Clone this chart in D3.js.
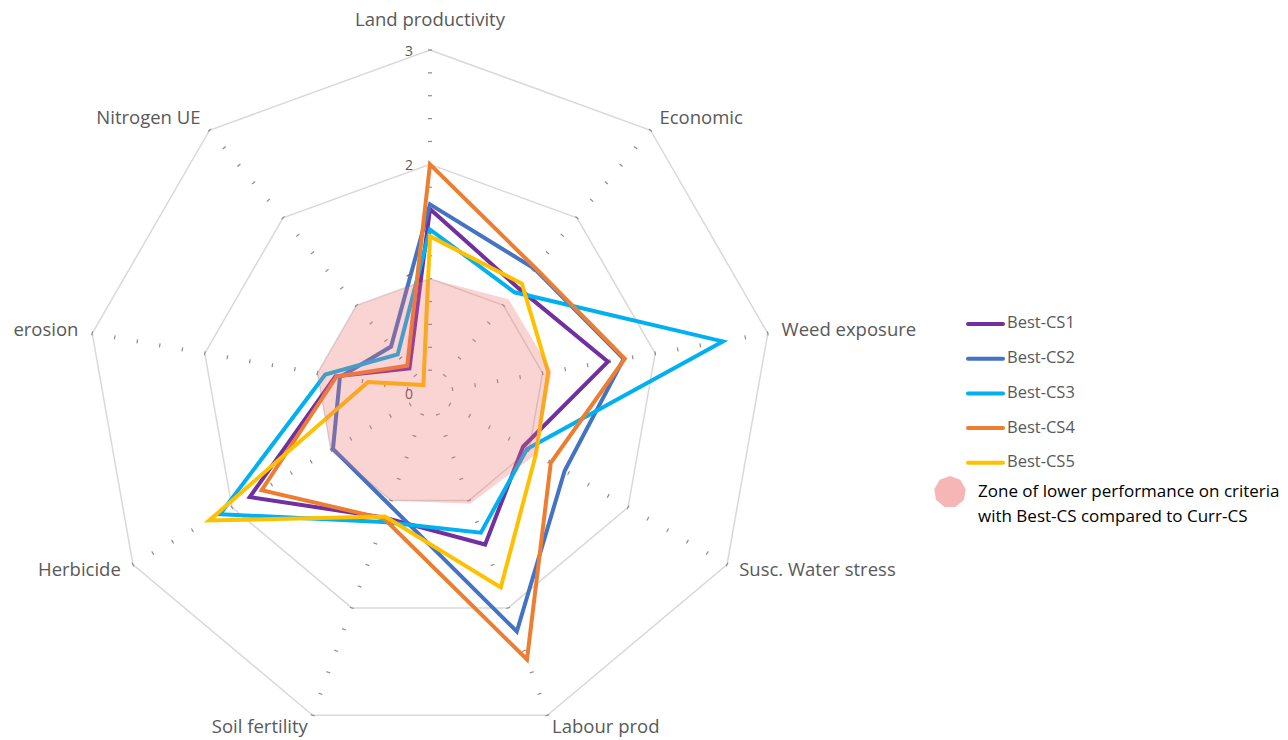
<!DOCTYPE html>
<html>
<head>
<meta charset="utf-8">
<script src="https://cdn.jsdelivr.net/npm/d3@7"></script>
<style>
  body { margin: 0; background: #fff; }
  svg { display: block; font-family: "Open Sans", "Liberation Sans", sans-serif; }
</style>
</head>
<body>
<svg width="1288" height="740"></svg>
<script>
// criteria, clockwise from the top
var categories = ["Land productivity", "Economic", "Weed exposure", "Susc. Water stress",
    "Labour prod", "Soil fertility", "Herbicide", "erosion", "Nitrogen UE"];

var seriesNames = ["Best-CS1", "Best-CS2", "Best-CS3", "Best-CS4", "Best-CS5"];
var seriesColors = ["#7030A0", "#4472C4", "#00B0F0", "#ED7D31", "#FFC000"];

var bestCS1 = [1.61, 1.20, 1.58, 0.94, 1.41, 1.16, 1.82, 0.84, 0.28];
var bestCS2 = [1.65, 1.42, 1.72, 1.36, 2.22, 1.04, 0.98, 0.80, 0.53];
var bestCS3 = [1.43, 1.15, 2.60, 0.98, 1.30, 1.20, 2.12, 0.93, 0.44];
var bestCS4 = [2.00, 1.43, 1.73, 1.22, 2.48, 1.17, 1.70, 0.83, 0.31];
var bestCS5 = [1.37, 1.25, 1.05, 1.07, 1.81, 1.15, 2.23, 0.55, 0.09];

// Curr-CS reference zone
var zoneValues = [1.0, 1.07, 1.08, 1.07, 1.03, 1.0, 1.0, 1.0, 1.0];
var zoneLabel = ["Zone of lower performance on criteria", "with Best-CS compared to Curr-CS"];

var gridLevels = [1, 2, 3];
var tickLabels = [0, 1, 2, 3];
var minorStep = 0.2;

var svg = d3.select("svg"),
    cx = 430,
    cy = 393;

var r = d3.scaleLinear().domain([0, 3]).range([0, 343]);
var angle = d3.scalePoint().domain(categories).range([0, 2 * Math.PI * 8 / 9]);

var radial = d3.lineRadial()
    .angle(function(d, i) { return angle(categories[i]); })
    .radius(function(d) { return r(d); })
    .curve(d3.curveLinearClosed);

function px(a, v) { return cx + r(v) * Math.sin(a); }
function py(a, v) { return cy - r(v) * Math.cos(a); }

var plot = svg.append("g").attr("transform", "translate(" + cx + "," + cy + ")");

// grid polygons
plot.append("g")
    .selectAll("path")
    .data(gridLevels)
    .enter()
        .append("path")
        .attr("d", function(lv) { return radial(categories.map(function() { return lv; })); })
        .attr("fill", "none")
        .attr("stroke", "#d9d9d9")
        .attr("stroke-width", 1.5);

// minor tick dashes on every spoke
var tickVals = d3.range(minorStep, 3 + 1e-6, minorStep);
var ticks = [];
categories.forEach(function(c) {
    tickVals.forEach(function(v) { ticks.push({ a: angle(c), v: v }); });
});
plot.append("g")
    .selectAll("line")
    .data(ticks)
    .enter()
        .append("line")
        .attr("x1", function(d) { return r(d.v) * Math.sin(d.a) - 2 * Math.cos(d.a); })
        .attr("y1", function(d) { return -r(d.v) * Math.cos(d.a) - 2 * Math.sin(d.a); })
        .attr("x2", function(d) { return r(d.v) * Math.sin(d.a) + 2 * Math.cos(d.a); })
        .attr("y2", function(d) { return -r(d.v) * Math.cos(d.a) + 2 * Math.sin(d.a); })
        .attr("stroke", "#8c8c8c")
        .attr("stroke-width", 1.2);

// scale numbers along the top spoke
plot.append("g")
    .selectAll("text")
    .data(tickLabels)
    .enter()
        .append("text")
        .attr("x", -17)
        .attr("y", function(d) { return -r(d) + 2; })
        .attr("text-anchor", "end")
        .attr("dominant-baseline", "middle")
        .attr("font-size", 14)
        .attr("fill", "#595959")
        .text(function(d) { return d; });

// series
var seriesData = [bestCS1, bestCS2, bestCS3, bestCS4, bestCS5];
plot.append("g")
    .selectAll("path")
    .data(seriesData)
    .enter()
        .append("path")
        .attr("d", radial)
        .attr("fill", "none")
        .attr("stroke", function(d, i) { return seriesColors[i]; })
        .attr("stroke-width", 4)
        .attr("stroke-linejoin", "miter")
        .attr("stroke-miterlimit", 10);

// pink zone on top, translucent
plot.append("path")
    .attr("d", radial(zoneValues))
    .attr("fill", "#f06e6e")
    .attr("opacity", 0.3);

// axis labels
svg.append("g")
    .selectAll("text")
    .data(categories)
    .enter()
        .append("text")
        .attr("x", function(c) {
            var a = angle(c);
            return px(a, 3) + 14 * Math.sin(a);
        })
        .attr("y", function(c) {
            var a = angle(c);
            if (a === 0) return py(a, 3) - 29;
            return py(a, 3) - 14 * Math.cos(a);
        })
        .attr("text-anchor", function(c) {
            var s = Math.sin(angle(c));
            return Math.abs(s) < 0.01 ? "middle" : (s > 0 ? "start" : "end");
        })
        .attr("dominant-baseline", "middle")
        .attr("font-size", 18.5)
        .attr("fill", "#595959")
        .text(function(c) { return c; });

// legend
var legend = svg.append("g").attr("transform", "translate(968,324)");
var item = legend.selectAll("g")
    .data(seriesNames)
    .enter()
        .append("g")
        .attr("transform", function(d, i) { return "translate(0," + (i * 34.7) + ")"; });
item.append("line")
    .attr("x1", 0).attr("x2", 35)
    .attr("stroke", function(d, i) { return seriesColors[i]; })
    .attr("stroke-width", 4)
    .attr("stroke-linecap", "round");
item.append("text")
    .attr("x", 39)
    .attr("dominant-baseline", "middle")
    .attr("font-size", 16.5)
    .attr("fill", "#595959")
    .text(function(d) { return d; });

var marker = d3.lineRadial()
    .angle(function(d, i) { return i * 2 * Math.PI / 9; })
    .radius(16)
    .curve(d3.curveLinearClosed);
svg.append("path")
    .attr("transform", "translate(950,492)")
    .attr("d", marker(d3.range(9)))
    .attr("fill", "#f06e6e")
    .attr("opacity", 0.5);

svg.append("g")
    .selectAll("text")
    .data(zoneLabel)
    .enter()
        .append("text")
        .attr("x", 978)
        .attr("y", function(d, i) { return 492 + i * 25; })
        .attr("dominant-baseline", "middle")
        .attr("font-size", 17)
        .attr("fill", "#000")
        .text(function(d) { return d; });
</script>
</body>
</html>
